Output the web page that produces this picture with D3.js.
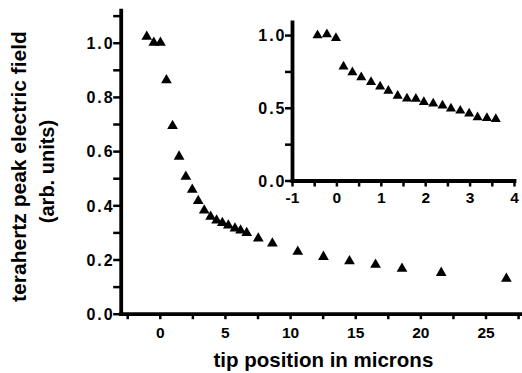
<!DOCTYPE html>
<html>
<head>
<meta charset="utf-8">
<script src="https://cdn.jsdelivr.net/npm/d3@7/dist/d3.min.js"></script>
<style>
  html, body { margin: 0; padding: 0; background: #fff; }
  svg { display: block; }
  text { font-family: "Liberation Sans", Arial, sans-serif; fill: #000; }
</style>
</head>
<body>
<svg id="chart" width="522" height="373"></svg>
<script>
// ---- data ----
const mainX = [-1.0, -0.46, 0.05, 0.51, 0.98, 1.48, 2.0, 2.49, 2.95, 3.41, 3.9, 4.36, 4.8, 5.26, 5.77, 6.2, 6.67, 7.56, 8.64, 10.59, 12.56, 14.56, 16.56, 18.59, 21.6, 26.6];
const mainY = [1.022, 1.0, 1.0, 0.862, 0.693, 0.58, 0.506, 0.458, 0.416, 0.381, 0.358, 0.344, 0.335, 0.326, 0.315, 0.307, 0.298, 0.278, 0.259, 0.229, 0.21, 0.194, 0.181, 0.166, 0.151, 0.129];

const insetX = [-0.425, -0.214, -0.01, 0.16, 0.36, 0.56, 0.78, 0.985, 1.17, 1.38, 1.59, 1.79, 1.97, 2.18, 2.39, 2.58, 2.79, 2.99, 3.18, 3.39, 3.59];
const insetY = [0.998, 1.005, 0.98, 0.784, 0.744, 0.709, 0.677, 0.646, 0.616, 0.582, 0.563, 0.561, 0.54, 0.529, 0.515, 0.494, 0.48, 0.46, 0.434, 0.43, 0.423];

const mainXTicks = [0, 5, 10, 15, 20, 25];
const mainXMinor = [-2.5, 2.5, 7.5, 12.5, 17.5, 22.5, 27.5];
const mainYTicks = [0, 0.2, 0.4, 0.6, 0.8, 1.0];
const mainYMinor = [0.1, 0.3, 0.5, 0.7, 0.9, 1.1];
const insetXTicks = [-1, 0, 1, 2, 3, 4];
const insetXMinor = [-0.5, 0.5, 1.5, 2.5, 3.5];
const insetYTicks = [0, 0.5, 1.0];
const insetYMinor = [0.25, 0.75];

const xTitle = "tip position in microns";
const yTitle1 = "terahertz peak electric field";
const yTitle2 = "(arb. units)";

// ---- drawing ----
const svg = d3.select("#chart");
const AXW = 3.8;

function yAxisDraw(g, scale, major, minor, tsize, fmt) {
  const gm = g.append("g").call(d3.axisLeft(scale).tickValues(minor).tickSize(tsize).tickSizeOuter(0).tickFormat(""));
  gm.select(".domain").remove();
  gm.selectAll(".tick line").attr("stroke", "#000").attr("stroke-width", 2.5);
  const ga = g.append("g").call(d3.axisLeft(scale).tickValues(major).tickSize(tsize).tickSizeOuter(0).tickFormat(fmt));
  ga.select(".domain").attr("stroke", "#000").attr("stroke-width", AXW).attr("stroke-linecap", "square");
  ga.selectAll(".tick line").attr("stroke", "#000").attr("stroke-width", 2.5);
  ga.selectAll(".tick text")
    .attr("x", -tsize + 1.5).attr("dy", "0.36em")
    .style("font-size", "16px").style("font-weight", "bold").style("letter-spacing", "2px");
}
function xAxisDraw(g, scale, major, minor, tsize, labelY) {
  const gm = g.append("g").call(d3.axisBottom(scale).tickValues(minor).tickSize(tsize).tickSizeOuter(0).tickFormat(""));
  gm.select(".domain").remove();
  gm.selectAll(".tick line").attr("stroke", "#000").attr("stroke-width", 2.5);
  const ga = g.append("g").call(d3.axisBottom(scale).tickValues(major).tickSize(tsize).tickSizeOuter(0).tickFormat(d => String(d)));
  ga.select(".domain").attr("stroke", "#000").attr("stroke-width", AXW).attr("stroke-linecap", "square");
  ga.selectAll(".tick line").attr("stroke", "#000").attr("stroke-width", 2.5);
  ga.selectAll(".tick text")
    .attr("y", labelY).attr("dy", 0)
    .style("font-size", "15.5px").style("font-weight", "bold");
}

// main chart
const x = d3.scaleLinear().domain([-3, 27.8]).range([120.7, 522]);
const y = d3.scaleLinear().domain([0, 1.12]).range([313.7, 10.2]);

yAxisDraw(svg.append("g").attr("transform", `translate(${x(-3)},0)`), y, mainYTicks, mainYMinor, 7.5, d3.format(".1f"));
xAxisDraw(svg.append("g").attr("transform", `translate(0,${y(0)})`), x, mainXTicks, mainXMinor, 5.5, 24);

const tri = d3.symbol().type(d3.symbolTriangle).size(50);
svg.append("g").selectAll("path").data(d3.range(mainX.length)).join("path")
  .attr("d", tri)
  .attr("transform", i => `translate(${x(mainX[i])},${y(mainY[i])})`)
  .attr("fill", "#000");

// inset
const xi = d3.scaleLinear().domain([-1, 4]).range([292, 514]);
const yi = d3.scaleLinear().domain([0, 1.09]).range([180.5, 22]);

yAxisDraw(svg.append("g").attr("transform", `translate(${xi(-1)},0)`), yi, insetYTicks, insetYMinor, 7, d3.format(".1f"));
xAxisDraw(svg.append("g").attr("transform", `translate(0,${yi(0)})`), xi, insetXTicks, insetXMinor, 6, 22);

const triS = d3.symbol().type(d3.symbolTriangle).size(44);
svg.append("g").selectAll("path").data(d3.range(insetX.length)).join("path")
  .attr("d", triS)
  .attr("transform", i => `translate(${xi(insetX[i])},${yi(insetY[i])})`)
  .attr("fill", "#000");

// titles
svg.append("text").attr("x", 323.4).attr("y", 366.5).attr("text-anchor", "middle")
  .style("font-size", "20.5px").style("font-weight", "bold").text(xTitle);
svg.append("text").attr("transform", "translate(26,166.5) rotate(-90)").attr("text-anchor", "middle")
  .style("font-size", "21px").style("font-weight", "bold").text(yTitle1);
svg.append("text").attr("transform", "translate(53.5,171.5) rotate(-90)").attr("text-anchor", "middle")
  .style("font-size", "20px").style("font-weight", "bold").text(yTitle2);
</script>
</body>
</html>
